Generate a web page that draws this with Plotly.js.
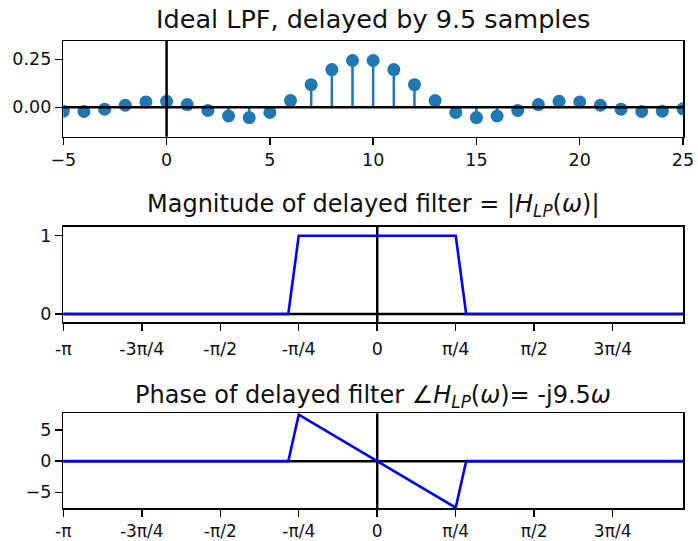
<!DOCTYPE html>
<html>
<head>
<meta charset="utf-8">
<script src="https://cdn.plot.ly/plotly-3.0.1.min.js"></script>
<style>html,body{margin:0;padding:0;background:#fff;}#chart{width:698px;height:541px;}</style>
</head>
<body>
<div id="chart"></div>
<script>
// Top panel: impulse response of ideal LPF delayed by 9.5 samples
const n = [-5,-4,-3,-2,-1,0,1,2,3,4,5,6,7,8,9,10,11,12,13,14,15,16,17,18,19,20,21,22,23,24,25];
const h = [-0.0203,-0.0218,-0.0097,0.0106,0.0280,0.0310,0.0143,-0.0162,-0.0452,-0.0535,-0.0271,0.0348,0.1176,0.1961,0.2436,0.2436,0.1961,0.1176,0.0348,-0.0271,-0.0535,-0.0452,-0.0162,0.0143,0.0310,0.0280,0.0106,-0.0097,-0.0218,-0.0203,-0.0079];

// Middle / bottom panels: corner points of magnitude and phase curves
const w = [-3.1416,-0.89,-0.7854,0.7854,0.89,3.06];
const mag = [0,0,1,1,0,0];
const phase = [0,0,7.46,-7.46,0,0];

const piTickVals = [-Math.PI,-3*Math.PI/4,-Math.PI/2,-Math.PI/4,0,Math.PI/4,Math.PI/2,3*Math.PI/4];
const piTickText = ['-π','-3π/4','-π/2','-π/4','0','π/4','π/2','3π/4'];

const stemX = [], stemY = [];
n.forEach((v,i)=>{ stemX.push(v,v,null); stemY.push(0,h[i],null); });

const C = '#1f77b4';
const FONT = 'DejaVu Sans, sans-serif';

const traces = [
  {x: stemX, y: stemY, mode:'lines', line:{color:C,width:2.5}, xaxis:'x', yaxis:'y', hoverinfo:'skip'},
  {x: n, y: h, mode:'markers', marker:{color:C,size:13}, xaxis:'x', yaxis:'y'},
  {x: w, y: mag, mode:'lines', line:{color:'#0000ff',width:2.6}, xaxis:'x2', yaxis:'y2'},
  {x: w, y: phase, mode:'lines', line:{color:'#0000ff',width:2.6}, xaxis:'x3', yaxis:'y3'}
];

const ax = {
  showline:true, mirror:true, linecolor:'#000', linewidth:1.5,
  ticks:'outside', ticklen:7, tickwidth:1.5, tickcolor:'#000',
  showgrid:false, zeroline:false,
  tickfont:{family:FONT,size:17.5,color:'#111'}
};
const X0 = 63.3/698, X1 = 683/698;
function dom(top,bot){ return [1-bot/541, 1-top/541]; }

const layout = {
  width:698, height:541,
  margin:{l:0,r:0,t:0,b:0},
  paper_bgcolor:'#fff', plot_bgcolor:'#fff',
  showlegend:false,
  font:{family:FONT,color:'#111'},
  xaxis: Object.assign({}, ax, {domain:[X0,X1], range:[-5,25], tickvals:[-5,0,5,10,15,20,25], anchor:'y'}),
  yaxis: Object.assign({}, ax, {domain:dom(41,136.7), range:[-0.153,0.345], tickvals:[0,0.25], tickformat:'.2f', anchor:'x'}),
  xaxis2: Object.assign({}, ax, {domain:[X0,X1], range:[-Math.PI,3.06], tickvals:piTickVals, ticktext:piTickText, ticklabelstandoff:3, anchor:'y2'}),
  yaxis2: Object.assign({}, ax, {domain:dom(226.7,322.3), range:[-0.106,1.115], tickvals:[0,1], anchor:'x2'}),
  xaxis3: Object.assign({}, ax, {domain:[X0,X1], range:[-Math.PI,3.06], tickvals:piTickVals, ticktext:piTickText, ticklabelstandoff:0, tickfont:{family:FONT,size:17,color:'#111'}, anchor:'y3'}),
  yaxis3: Object.assign({}, ax, {domain:dom(413.3,508.3), range:[-7.56,7.68], tickvals:[-5,0,5], anchor:'x3'}),
  shapes: [
    {type:'line', xref:'x domain', x0:0, x1:1, yref:'y', y0:0, y1:0, line:{color:'#000',width:2.5}, layer:'above'},
    {type:'line', xref:'x', x0:0, x1:0, yref:'y domain', y0:0, y1:1, line:{color:'#000',width:2.5}, layer:'above'},
    {type:'line', xref:'x2 domain', x0:0, x1:1, yref:'y2', y0:0, y1:0, line:{color:'#000',width:2.5}, layer:'below'},
    {type:'line', xref:'x2', x0:0, x1:0, yref:'y2 domain', y0:0, y1:1, line:{color:'#000',width:2.5}, layer:'below'},
    {type:'line', xref:'x3 domain', x0:0, x1:1, yref:'y3', y0:0, y1:0, line:{color:'#000',width:2.5}, layer:'below'},
    {type:'line', xref:'x3', x0:0, x1:0, yref:'y3 domain', y0:0, y1:1, line:{color:'#000',width:2.5}, layer:'below'}
  ],
  annotations: [
    {text:'Ideal LPF, delayed by 9.5 samples', xref:'paper', yref:'paper', x:(X0+X1)/2, y:1-19/541, xanchor:'center', yanchor:'middle', showarrow:false, font:{family:FONT,size:25.5,color:'#111'}},
    {text:'Magnitude of delayed filter = |<i>H</i><sub><i>LP</i></sub>(<i>ω</i>)|', xref:'paper', yref:'paper', x:(X0+X1)/2, y:1-205/541, xanchor:'center', yanchor:'middle', showarrow:false, font:{family:FONT,size:24,color:'#111'}},
    {text:'Phase of delayed filter ∠<i>H</i><sub><i>LP</i></sub>(<i>ω</i>)= -j9.5<i>ω</i>', xref:'paper', yref:'paper', x:(X0+X1)/2, y:1-396/541, xanchor:'center', yanchor:'middle', showarrow:false, font:{family:FONT,size:24,color:'#111'}}
  ]
};

Plotly.newPlot('chart', traces, layout, {displayModeBar:false, staticPlot:true});
</script>
</body>
</html>
